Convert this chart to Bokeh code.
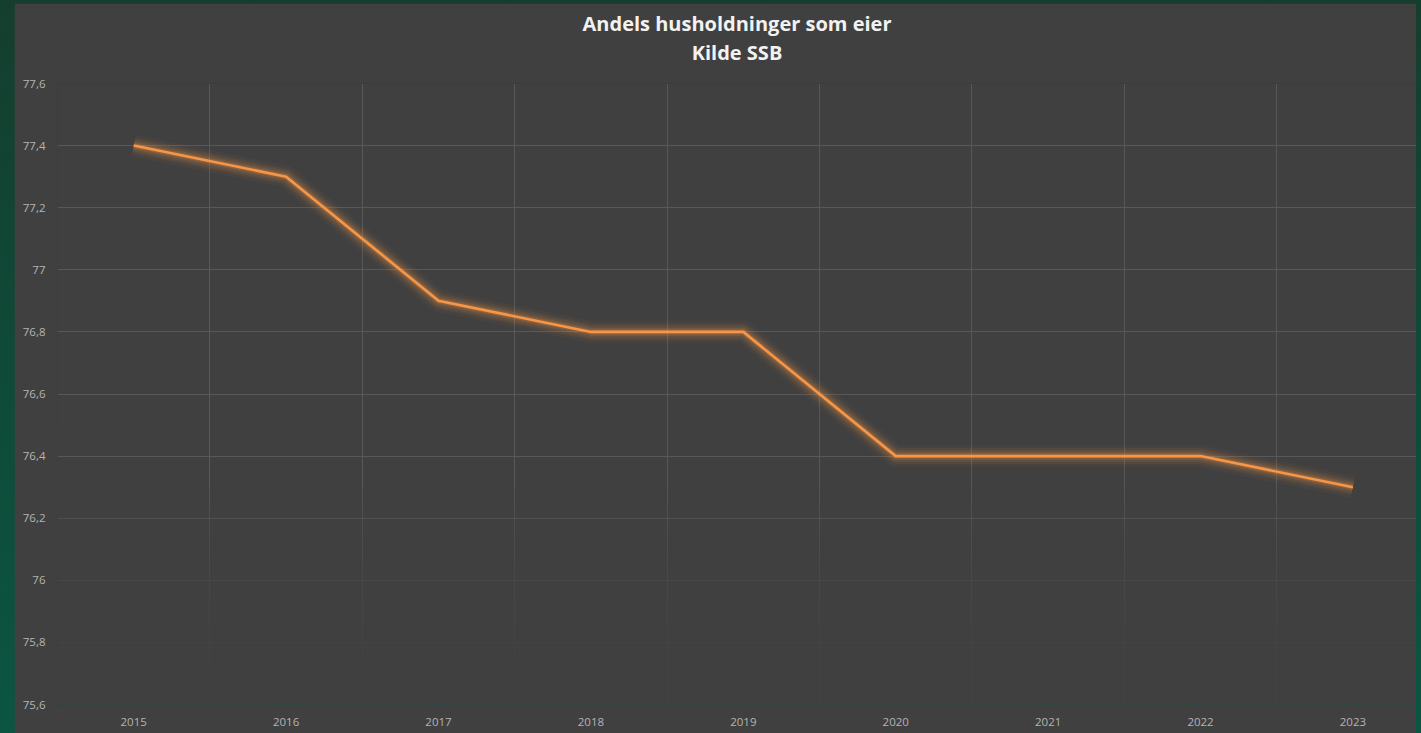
from bokeh.plotting import figure
from bokeh.models import Range1d, FixedTicker, Title
from bokeh.layouts import column
from bokeh.embed import file_html
from bokeh.resources import INLINE

# Share of households owning their home (SSB)
years = ["2015", "2016", "2017", "2018", "2019", "2020", "2021", "2022", "2023"]
andel = [77.4, 77.3, 76.9, 76.8, 76.8, 76.4, 76.4, 76.4, 76.3]

y_ticks = [75.6, 75.8, 76.0, 76.2, 76.4, 76.6, 76.8, 77.0, 77.2, 77.4, 77.6]
y_tick_labels = ["75,6", "75,8", "76", "76,2", "76,4", "76,6", "76,8", "77", "77,2", "77,4", "77,6"]

title_main = "Andels husholdninger som eier"
title_source = "Kilde SSB"

BG = "#404040"
GRID = "#585858"
LABEL = "#b4b4b4"
ORANGE = "#f79646"
FONT = "Open Sans"

xs = list(range(len(years)))
x_start = -0.5
x_end = 8.417

p = figure(
    width=1402, height=730,
    x_range=Range1d(x_start, x_end), y_range=Range1d(y_ticks[0], y_ticks[-1]),
    output_backend="svg", toolbar_location=None,
    background_fill_color=BG, border_fill_color=BG,
    min_border_left=43, min_border_right=0, min_border_top=80, min_border_bottom=29,
)
p.margin = (3, 5, 0, 14)
p.outline_line_color = None

# two-line centred heading, lifted clear of the plot area by an empty spacer row
p.title.visible = False
p.add_layout(Title(text=" ", text_font_size="1px", standoff=15), "above")
for txt in (title_source, title_main):
    p.add_layout(Title(text=txt, align="center", text_font=FONT, text_font_size="20px",
                       text_font_style="bold", text_color="#f2f2f2", standoff=0), "above")

# category axis: labels at centres, grid lines at category boundaries
p.xaxis.ticker = FixedTicker(ticks=xs)
p.xaxis.major_label_overrides = {i: y for i, y in zip(xs, years)}
p.xgrid.ticker = FixedTicker(ticks=[i - 0.5 for i in xs])
p.yaxis.ticker = FixedTicker(ticks=y_ticks)
p.yaxis.major_label_overrides = {t: s for t, s in zip(y_ticks, y_tick_labels)}

for ax in (p.xaxis[0], p.yaxis[0]):
    ax.axis_line_color = None
    ax.major_tick_line_color = None
    ax.minor_tick_line_color = None
    ax.major_tick_out = 0
    ax.major_tick_in = 0
    ax.major_label_text_font = FONT
    ax.major_label_text_font_size = "11.5px"
    ax.major_label_text_color = LABEL
p.xaxis.major_label_standoff = 13
p.yaxis.major_label_standoff = 12

p.xgrid.grid_line_color = GRID
p.ygrid.grid_line_color = GRID
p.xgrid.grid_line_width = 1
p.ygrid.grid_line_width = 1

# grid lines fade out towards the bottom of the plot area
for k in range(12):
    p.quad(left=x_start, right=x_end, bottom=y_ticks[0], top=76.3 - k * 0.055,
           fill_color=BG, fill_alpha=0.18, line_color=None)

# soft orange glow under the series line
for w, a in [(22, 0.04), (16, 0.07), (12, 0.09), (8, 0.13), (5, 0.18)]:
    p.line(xs, andel, line_color=ORANGE, line_width=w, line_alpha=a, line_join="round")
p.line(xs, andel, line_color=ORANGE, line_width=2.6, line_join="miter")

layout = column(p, width=1421, height=733,
                styles={"background": "linear-gradient(180deg, #153e2e 0%, #0f4a38 50%, #0b5542 100%)"})

open("out.html", "w").write(file_html(layout, INLINE))
